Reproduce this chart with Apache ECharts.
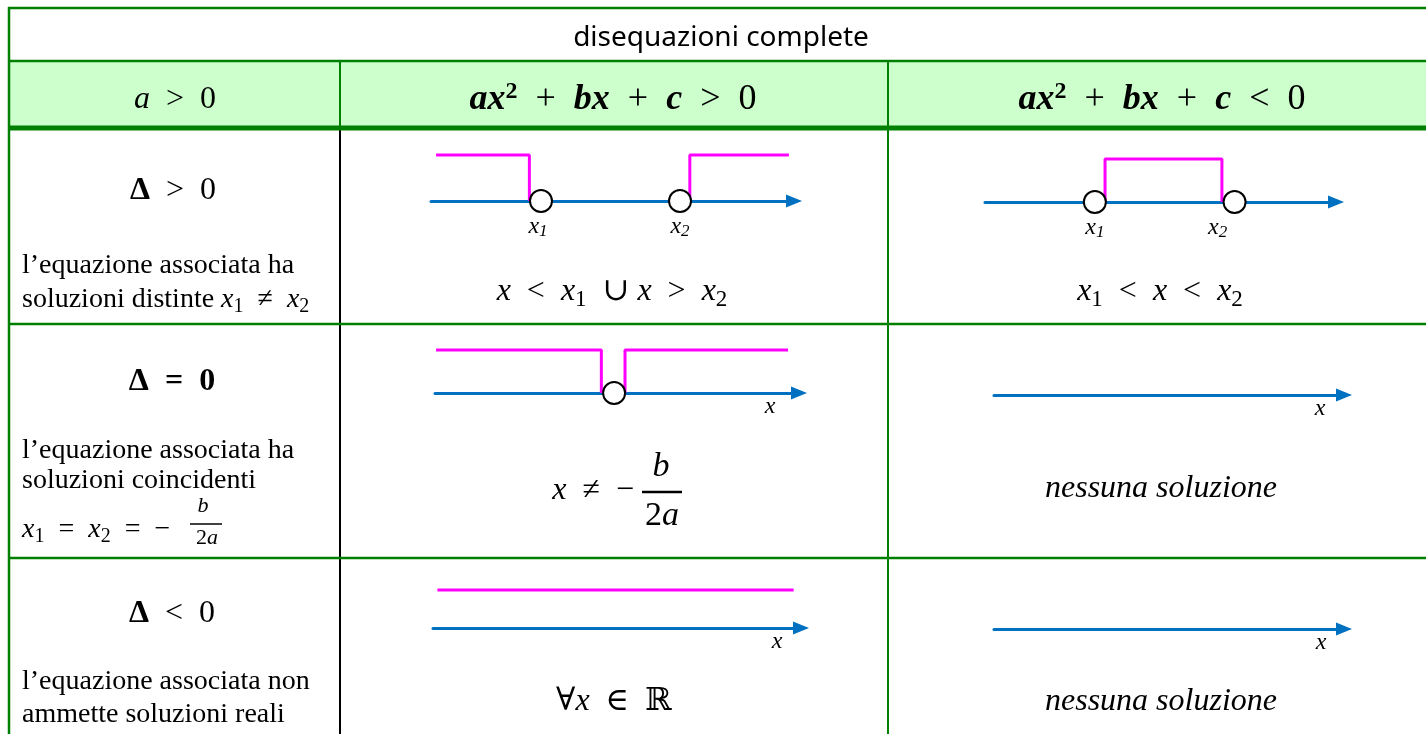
<!DOCTYPE html>
<html>
<head>
<meta charset="utf-8">
<title>disequazioni complete</title>
<script src="https://cdn.jsdelivr.net/npm/echarts@6/dist/echarts.min.js"></script>
<style>
html, body { margin: 0; padding: 0; background: #fff; }
#chart { width: 1426px; height: 734px; }
</style>
</head>
<body>
<div id="chart"></div>
<script>
// posizioni lungo ogni retta: 0 = inizio della retta, 100 = punta della freccia
// radici (cerchi vuoti)
var rootsPos1 = [30.3, 68.6];   // Δ>0, ax²+bx+c>0
var rootsNeg1 = [31.3, 71.1];   // Δ>0, ax²+bx+c<0
var rootsPos2 = [49.2];         // Δ=0, ax²+bx+c>0
var rootIndex = ['1', '2'];

// tratti del segno (y: 1 = livello alto, 0 = sulla retta)
var signPos1 = [[[1.4, 1], [27.1, 1], [27.1, 0]], [[71.3, 0], [71.3, 1], [98.6, 1]]];
var signNeg1 = [[[34.2, 0], [34.2, 1], [67.5, 1], [67.5, 0]]];
var signPos2 = [[[0.3, 1], [45.7, 1], [45.7, 0]], [[52.2, 0], [52.2, 1], [97.0, 1]]];
var signPos3 = [[[1.2, 1], [98.0, 1]]];

var SERIF = "'Liberation Serif', 'DejaVu Serif', serif";
var GREEN = '#008000';

// dove stanno le sei rette nella tabella
var cells = [
  {left: 431, right: 794, axisY: 201, topY: 155, roots: rootsPos1, sign: signPos1, labels: true, labelOffsets: [[-3, 0], [0, 0]]},
  {left: 985, right: 1336, axisY: 202, topY: 159, roots: rootsNeg1, sign: signNeg1, labels: true, labelOffsets: [[0, 0], [-17, 0]]},
  {left: 435, right: 799, axisY: 393, topY: 350, roots: rootsPos2, sign: signPos2, nameGap: -29},
  {left: 994, right: 1344, axisY: 395, topY: 355, roots: [], sign: [], nameGap: -24},
  {left: 433, right: 801, axisY: 628, topY: 590, roots: [], sign: signPos3, nameGap: -24},
  {left: 994, right: 1344, axisY: 629, topY: 590, roots: [], sign: [], nameGap: -23}
];

function mathRich(size) {
  return {
    i: {fontFamily: SERIF, fontStyle: 'italic', fontSize: size, fill: '#000'},
    r: {fontFamily: SERIF, fontSize: size, fill: '#000'},
    b: {fontFamily: SERIF, fontWeight: 'bold', fontSize: size, fill: '#000'},
    bi: {fontFamily: SERIF, fontWeight: 'bold', fontStyle: 'italic', fontSize: size, fill: '#000'},
    sub: {fontFamily: SERIF, fontSize: Math.round(size * 0.72), fill: '#000', padding: [Math.round(size * 0.5), 0, 0, 0]},
    bsup: {fontFamily: SERIF, fontWeight: 'bold', fontSize: Math.round(size * 0.68), fill: '#000', padding: [0, 0, Math.round(size * 0.45), 0]}
  };
}

function txt(x, y, text, size, align) {
  return {type: 'text', x: x, y: y, z: 10, style: {
    text: text, rich: mathRich(size), fontFamily: SERIF, fontSize: size, fill: '#000',
    align: align || 'center', verticalAlign: 'middle'
  }};
}

function hline(y, x1, x2, color, w) {
  return {type: 'line', z: 5, shape: {x1: x1, y1: y, x2: x2, y2: y}, style: {stroke: color, lineWidth: w}};
}
function vline(x, y1, y2, color, w) {
  return {type: 'line', z: 4, shape: {x1: x, y1: y1, x2: x, y2: y2}, style: {stroke: color, lineWidth: w}};
}

var graphics = [
  {type: 'rect', z: 1, shape: {x: 9, y: 61, width: 1420, height: 66}, style: {fill: '#CCFFCC'}},
  vline(340, 61, 127, GREEN, 2),
  vline(340, 127, 734, '#000', 2),
  vline(888, 61, 734, GREEN, 2),
  vline(9, 7, 734, GREEN, 2.5),
  hline(8, 8, 1426, GREEN, 2.5),
  hline(61, 8, 1426, GREEN, 2.5),
  hline(128, 8, 1426, GREEN, 5),
  hline(324, 8, 1426, GREEN, 2.5),
  hline(558, 8, 1426, GREEN, 2.5),

  // intestazioni
  {type: 'text', x: 721, y: 38, z: 10, style: {text: 'disequazioni complete', fontFamily: "'Noto Sans'", fontSize: 28, fill: '#000', align: 'center', verticalAlign: 'middle'}},
  txt(175, 100, '{i|a}{r|  >  0}', 32),
  txt(613, 100, '{bi|ax}{bsup|2}{r|  +  }{bi|bx}{r|  +  }{bi|c}{r|  >  0}', 36),
  txt(1162, 100, '{bi|ax}{bsup|2}{r|  +  }{bi|bx}{r|  +  }{bi|c}{r|  <  0}', 36),

  // Δ > 0
  txt(173, 191, '{b|Δ}{r|  >  0}', 32),
  txt(22, 266, '{r|l’equazione associata ha}', 28, 'left'),
  txt(22, 300, '{r|soluzioni distinte }{i|x}{sub|1}{r|  ≠  }{i|x}{sub|2}', 28, 'left'),
  txt(612, 292, '{i|x}{r|  <  }{i|x}{sub|1}{r|  ∪ }{i|x}{r|  >  }{i|x}{sub|2}', 32),
  txt(1160, 292, '{i|x}{sub|1}{r|  <  }{i|x}{r|  <  }{i|x}{sub|2}', 32),

  // Δ = 0
  txt(172, 382, '{b|Δ  =  0}', 32),
  txt(22, 451, '{r|l’equazione associata ha}', 28, 'left'),
  txt(22, 481, '{r|soluzioni coincidenti}', 28, 'left'),
  txt(22, 530, '{i|x}{sub|1}{r|  =  }{i|x}{sub|2}{r|  =  −}', 28, 'left'),
  txt(203, 506, '{i|b}', 22),
  hline(524, 190, 222, '#000', 1.5),
  txt(207, 538, '{r|2}{i|a}', 22),
  txt(634, 491, '{i|x}{r|  ≠  −}', 32, 'right'),
  txt(661, 467, '{i|b}', 34),
  hline(492, 642, 682, '#000', 2.5),
  txt(662, 516, '{r|2}{i|a}', 34),
  txt(1161, 489, '{i|nessuna soluzione}', 32),

  // Δ < 0
  txt(172, 614, '{b|Δ}{r|  <  0}', 32),
  txt(22, 682, '{r|l’equazione associata non}', 28, 'left'),
  txt(22, 715, '{r|ammette soluzioni reali}', 28, 'left'),
  txt(614, 702, '{r|∀}{i|x}{r|  ∈  ℝ}', 32),
  txt(1161, 702, '{i|nessuna soluzione}', 32)
];

var grids = [], xAxes = [], yAxes = [], series = [];
cells.forEach(function (c, i) {
  grids.push({left: c.left, top: c.topY, width: c.right - c.left, height: c.axisY - c.topY});
  xAxes.push({
    type: 'value', gridIndex: i, min: 0, max: 100, position: 'bottom',
    axisLine: {show: true, onZero: false, lineStyle: {color: '#0070C0', width: 3},
      symbol: ['none', 'triangle'], symbolSize: [13, 16]},
    axisTick: {show: false}, axisLabel: {show: false}, splitLine: {show: false},
    name: c.nameGap != null ? 'x' : '', nameLocation: 'end', nameGap: c.nameGap,
    nameTextStyle: {fontFamily: SERIF, fontStyle: 'italic', fontSize: 24, color: '#000',
      align: 'center', verticalAlign: 'top', padding: [2, 0, 0, 0]}
  });
  yAxes.push({type: 'value', gridIndex: i, min: 0, max: 1, show: false});

  c.sign.forEach(function (seg) {
    series.push({
      type: 'line', xAxisIndex: i, yAxisIndex: i, data: seg, symbol: 'none', clip: false, z: 3,
      lineStyle: {color: '#FF00FF', width: 3}
    });
  });
  if (c.roots.length) {
    series.push({
      type: 'scatter', xAxisIndex: i, yAxisIndex: i, clip: false, z: 5,
      symbol: 'circle', symbolSize: 22,
      itemStyle: {color: '#fff', borderColor: '#000', borderWidth: 2, opacity: 1},
      data: c.roots.map(function (r, k) {
        return {value: [r, 0], label: {offset: c.labelOffsets ? c.labelOffsets[k] : [0, 0]}};
      }),
      label: {
        show: !!c.labels, position: 'bottom', distance: 0,
        formatter: function (p) { return '{x|x}{n|' + rootIndex[p.dataIndex] + '}'; },
        rich: {
          x: {fontFamily: SERIF, fontStyle: 'italic', fontSize: 24, color: '#000'},
          n: {fontFamily: SERIF, fontStyle: 'italic', fontSize: 17, color: '#000', padding: [10, 0, 0, 0]}
        }
      }
    });
  }
});

var myChart = echarts.init(document.getElementById('chart'));
myChart.setOption({
  animation: false,
  grid: grids,
  xAxis: xAxes,
  yAxis: yAxes,
  series: series,
  graphic: {elements: graphics}
});
</script>
</body>
</html>
